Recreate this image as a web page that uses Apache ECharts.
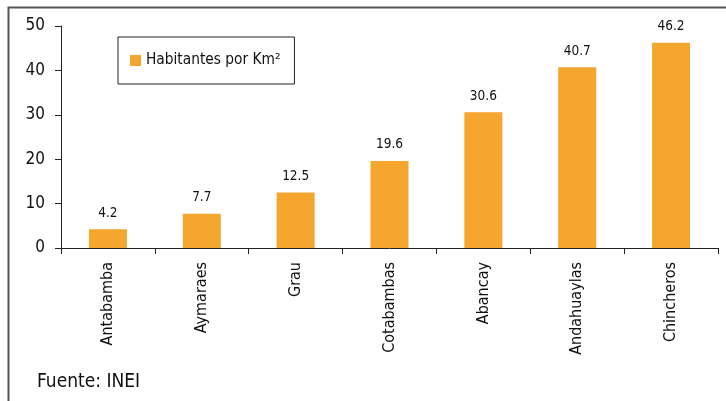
<!DOCTYPE html>
<html>
<head>
<meta charset="utf-8">
<script src="https://cdn.jsdelivr.net/npm/echarts@6/dist/echarts.min.js"></script>
<style>
html,body{margin:0;padding:0;background:#fff;}
#chart{width:726px;height:401px;}
</style>
</head>
<body>
<div id="chart"></div>
<script>
const categories = ['Antabamba','Aymaraes','Grau','Cotabambas','Abancay','Andahuaylas','Chincheros'];
const values = [4.2, 7.7, 12.5, 19.6, 30.6, 40.7, 46.2];
const seriesName = 'Habitantes por Km²';
const yTicks = {min: 0, max: 50, interval: 10};
const sourceText = 'Fuente: INEI';

const FONT = '"Liberation Sans Narrow", "DejaVu Sans Condensed", "Noto Sans", sans-serif';
const chart = echarts.init(document.getElementById('chart'), null, {renderer: 'canvas'});
chart.setOption({
  animation: false,
  backgroundColor: '#fff',
  textStyle: {fontFamily: FONT},
  grid: {left: 61, top: 26, right: 8, bottom: 153, containLabel: false},
  legend: {
    show: true,
    left: 118, top: 37,
    data: [seriesName],
    icon: 'rect', itemWidth: 11, itemHeight: 11, itemGap: 5,
    borderColor: '#222', borderWidth: 1,
    padding: [16, 14, 16, 12],
    textStyle: {fontFamily: FONT, fontSize: 15.3, color: '#111'}
  },
  xAxis: {
    type: 'category',
    data: categories,
    axisLine: {lineStyle: {color: '#222', width: 1}},
    axisTick: {show: true, length: 6, lineStyle: {color: '#222'}},
    axisLabel: {rotate: 90, margin: 14, fontSize: 16, color: '#111', fontFamily: FONT}
  },
  yAxis: {
    type: 'value',
    min: yTicks.min, max: yTicks.max, interval: yTicks.interval,
    splitLine: {show: false},
    axisLine: {show: true, lineStyle: {color: '#222', width: 1}},
    axisTick: {show: true, length: 6, lineStyle: {color: '#222'}},
    axisLabel: {margin: 16, fontSize: 17, color: '#111', fontFamily: FONT}
  },
  series: [{
    name: seriesName,
    type: 'bar',
    data: values,
    barWidth: 38,
    itemStyle: {color: '#F4A62E'},
    label: {show: true, position: 'top', distance: 9, fontSize: 13.5, color: '#111', fontFamily: FONT}
  }],
  graphic: [
    {type: 'rect', left: 6, top: 5, shape: {width: 900, height: 600}, style: {fill: 'none', stroke: '#555', lineWidth: 2}, silent: true, z: -1},
    {type: 'text', left: 37, top: 373, style: {text: sourceText, fontSize: 19, fill: '#111', fontFamily: FONT}}
  ]
});
</script>
</body>
</html>
